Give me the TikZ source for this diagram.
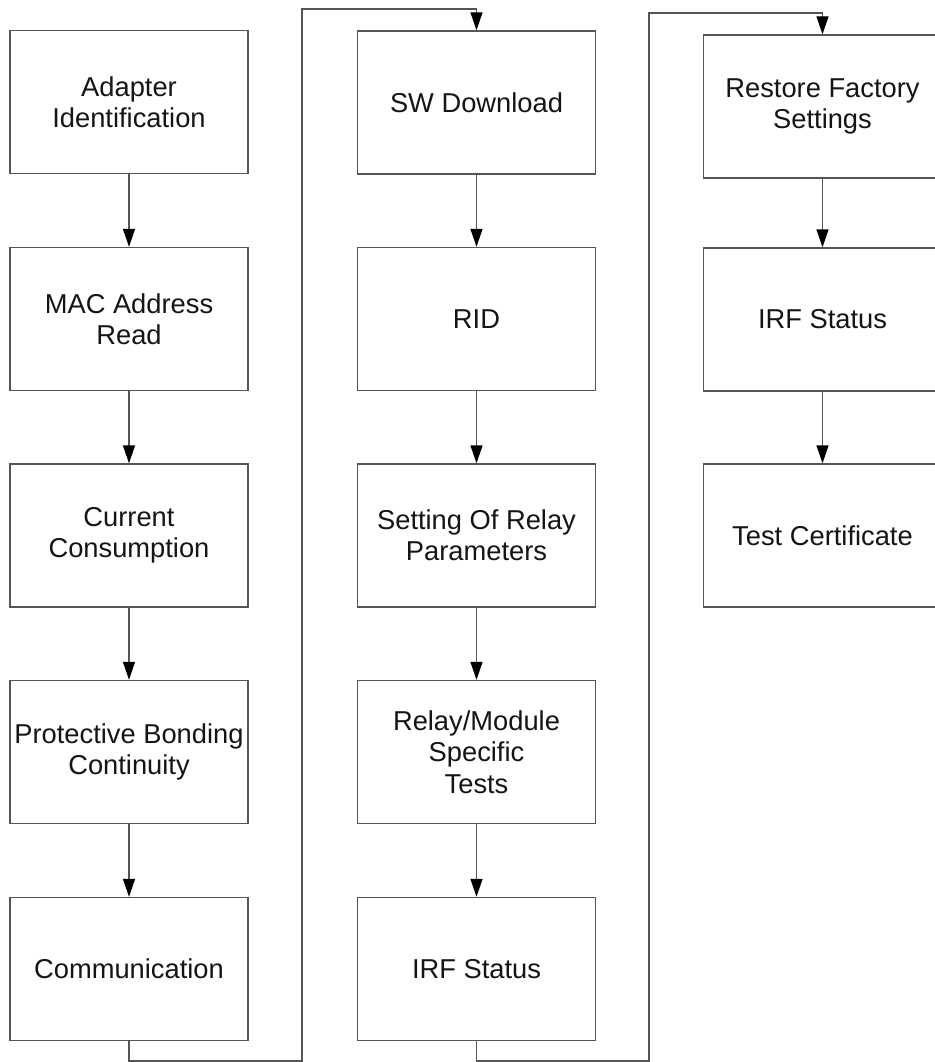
\documentclass[tikz,border=0pt]{standalone}
\usepackage{fontspec}
\setmainfont{Liberation Sans}
\usetikzlibrary{arrows.meta}
\definecolor{linegray}{HTML}{555555}
\definecolor{textblack}{HTML}{151515}
\tikzset{
  stepbox/.style={draw=linegray, line width=1.4pt, fill=white, minimum width=238pt, minimum height=143pt, inner sep=0pt, align=center, text=textblack, font=\fontsize{27.3}{31.4}\selectfont},
  flow/.style={draw=linegray, line width=1.4pt, -{Triangle[width=12pt,length=18pt,fill=black,color=black]}},
  link/.style={draw=linegray, line width=1.4pt}
}
\begin{document}
\begin{tikzpicture}[x=1pt,y=-1pt]
\useasboundingbox (0,0) rectangle (934,1062);
% column 1
\node[stepbox] (a1) at (129,102) {Adapter\\Identification};
\node[stepbox] (a2) at (129,319) {MAC Address\\Read};
\node[stepbox] (a3) at (129,535.5) {Current\\Consumption};
\node[stepbox] (a4) at (129,752) {Protective Bonding\\Continuity};
\node[stepbox] (a5) at (129,969) {Communication};
% column 2
\node[stepbox] (b1) at (476.5,102.5) {SW Download};
\node[stepbox] (b2) at (476.5,319) {RID};
\node[stepbox] (b3) at (476.5,535.5) {Setting Of Relay\\Parameters};
\node[stepbox] (b4) at (476.5,752) {Relay/Module\\Specific\\Tests};
\node[stepbox] (b5) at (476.5,969) {IRF Status};
% column 3
\node[stepbox] (c1) at (822.5,106.5) {Restore Factory\\Settings};
\node[stepbox] (c2) at (822.5,319.5) {IRF Status};
\node[stepbox] (c3) at (822.5,535.5) {Test Certificate};
% arrows within columns
\draw[flow] (a1) -- (a2);
\draw[flow] (a2) -- (a3);
\draw[flow] (a3) -- (a4);
\draw[flow] (a4) -- (a5);
\draw[flow] (b1) -- (b2);
\draw[flow] (b2) -- (b3);
\draw[flow] (b3) -- (b4);
\draw[flow] (b4) -- (b5);
\draw[flow] (c1) -- (c2);
\draw[flow] (c2) -- (c3);
% column links
\coordinate (p1) at (129,1061);
\coordinate (p2) at (302,1061);
\coordinate (p3) at (302,9);
\coordinate (p4) at (476.5,9);
\draw[link] (a5.south) -- (p1) -- (p2) -- (p3) -- (p4);
\draw[flow] (p4) -- (b1.north);
\coordinate (q1) at (476.5,1061);
\coordinate (q2) at (649,1061);
\coordinate (q3) at (649,13);
\coordinate (q4) at (822.5,13);
\draw[link] (b5.south) -- (q1) -- (q2) -- (q3) -- (q4);
\draw[flow] (q4) -- (c1.north);
\end{tikzpicture}
\end{document}
